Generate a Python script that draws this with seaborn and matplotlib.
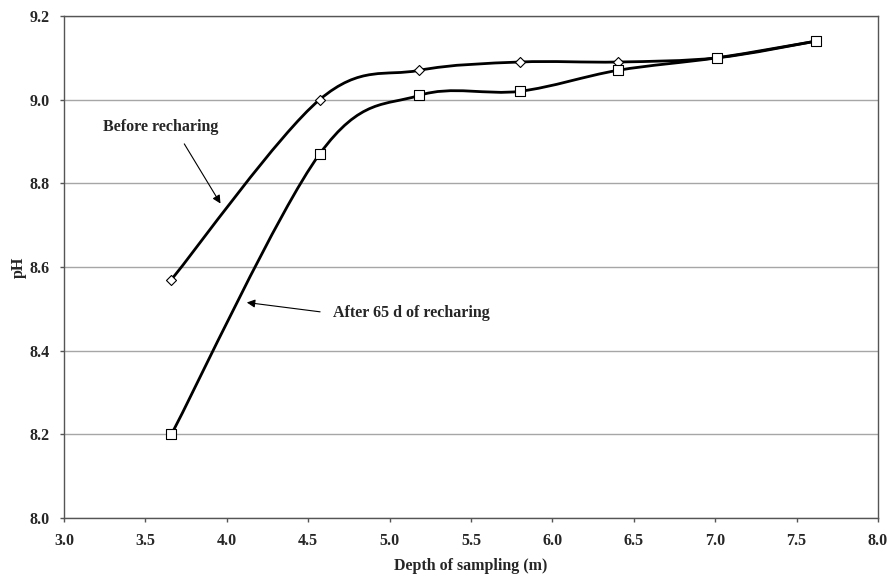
import numpy as np
import pandas as pd
import seaborn as sns
import matplotlib
matplotlib.use("Agg")
import matplotlib.pyplot as plt
from matplotlib.path import Path
from matplotlib.patches import PathPatch

depth = [3.66, 4.57, 5.18, 5.80, 6.40, 7.01, 7.62]
ph_before = [8.57, 9.00, 9.07, 9.09, 9.09, 9.10, 9.14]
ph_after = [8.20, 8.87, 9.01, 9.02, 9.07, 9.10, 9.14]

x_ticks = [3.0, 3.5, 4.0, 4.5, 5.0, 5.5, 6.0, 6.5, 7.0, 7.5, 8.0]
y_ticks = [8.0, 8.2, 8.4, 8.6, 8.8, 9.0, 9.2]


def smooth_path(xs, ys):
    # Excel-style smoothed line: cubic Bezier segments through each point
    pts = np.column_stack([xs, ys])
    ext = np.vstack([pts[0], pts, pts[-1]])
    verts = [pts[0]]
    codes = [Path.MOVETO]
    for i in range(len(pts) - 1):
        p0, p1, p2, p3 = ext[i], ext[i + 1], ext[i + 2], ext[i + 3]
        verts += [p1 + (p2 - p0) / 6, p2 - (p3 - p1) / 6, p2]
        codes += [Path.CURVE4] * 3
    return Path(verts, codes)


sns.set_style("white")
plt.rcParams["font.family"] = ["Liberation Serif", "DejaVu Serif"]
plt.rcParams["font.weight"] = "bold"

fig = plt.figure(figsize=(8.91, 5.77), dpi=100)
ax = fig.add_axes([64 / 891, 1 - 518 / 577, (878 - 64) / 891, (518 - 16) / 577])

df = pd.DataFrame({"depth": depth, "before": ph_before, "after": ph_after})

for col in ["before", "after"]:
    ax.add_patch(PathPatch(smooth_path(df["depth"], df[col]), facecolor="none",
                           edgecolor="black", lw=2.0, zorder=3))

sns.scatterplot(data=df, x="depth", y="before", marker="D", s=26,
                facecolor="white", edgecolor="black", linewidth=0.8, zorder=4, ax=ax)
sns.scatterplot(data=df, x="depth", y="after", marker="s", s=55,
                facecolor="white", edgecolor="black", linewidth=0.8, zorder=4, ax=ax)

ax.set_xlim(3.0, 8.0)
ax.set_ylim(8.0, 9.2)
ax.set_xticks(x_ticks)
ax.set_yticks(y_ticks)
ax.set_xticklabels([f"{v:.1f}" for v in x_ticks])
ax.set_yticklabels([f"{v:.1f}" for v in y_ticks])
ax.grid(axis="y", color="#a6a6a6", lw=1.0)
ax.set_axisbelow(True)
for s in ax.spines.values():
    s.set_color("#555555")
    s.set_linewidth(1.0)
ax.tick_params(axis="x", direction="out", length=3, width=1, color="#555555",
               labelsize=11.5, pad=8, bottom=True)
ax.tick_params(axis="y", direction="out", length=3, width=1, color="#555555",
               labelsize=11.5, pad=7, left=True)
ax.set_xlabel("Depth of sampling (m)", fontsize=11.5, fontweight="bold", labelpad=6)
ax.set_ylabel("pH", fontsize=11.5, fontweight="bold", labelpad=2)

ax.annotate("", xy=(3.97, 8.746), xytext=(3.73, 8.90),
            arrowprops=dict(arrowstyle="-|>", color="black", lw=0.8, mutation_scale=12))
ax.text(3.24, 8.935, "Before recharing", fontsize=11.5, fontweight="bold", va="center")
ax.annotate("", xy=(4.106, 8.516), xytext=(4.59, 8.492),
            arrowprops=dict(arrowstyle="-|>", color="black", lw=0.8, mutation_scale=12))
ax.text(4.652, 8.49, "After 65 d of recharing", fontsize=11.5, fontweight="bold", va="center")

fig.savefig("out.png", dpi=100)
